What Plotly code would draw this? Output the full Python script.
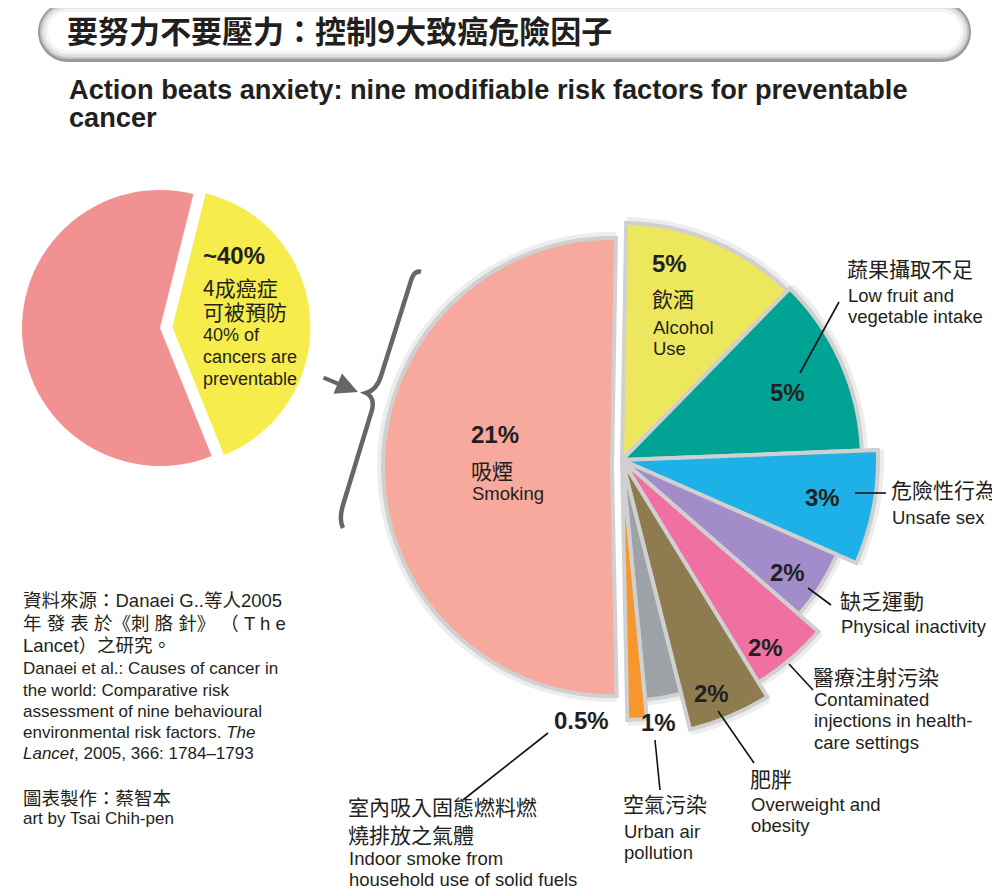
import numpy as np
import plotly.graph_objects as go

# ---------------- data ----------------
overview_labels = ["可被預防", "其他"]
overview_pct = [40, 60]

factor_zh = ["飲酒", "蔬果攝取不足", "危險性行為", "缺乏運動", "醫療注射污染",
             "肥胖", "空氣污染", "室內吸入固態燃料燃<br>燒排放之氣體", "吸煙"]
factor_en = ["Alcohol<br>Use", "Low fruit and<br>vegetable intake", "Unsafe sex",
             "Physical inactivity", "Contaminated<br>injections in health-<br>care settings",
             "Overweight and<br>obesity", "Urban air<br>pollution",
             "Indoor smoke from<br>household use of solid fuels", "Smoking"]
factor_pct = [5, 5, 3, 2, 2, 2, 1, 0.5, 21]

# ---------------- styles ----------------
overview_colors = ["#F6EC4C", "#F29191"]
factor_colors = ["#EDE75E", "#00A394", "#1DB1E8", "#A28DCA", "#EF70A1",
                 "#8E7C50", "#9DA2A7", "#F7962D", "#F6A99C"]
factor_radius = [237, 240, 256, 235, 261, 278, 241, 260, 229]   # drawn radius (px)

LAT = "Liberation Sans, Arial, Noto Sans CJK TC"
CJK = "Noto Sans CJK TC, Noto Sans CJK SC"
INK = "#231f20"
W, H = 1000, 888
OFF = 8  # page body margin of the browser


def px(x):
    return (x - OFF) / W


def py(y):
    return 1 - (y - OFF) / H


annotations = []
shapes = []


def text(x, y, s, size, family=LAT, anchor="left"):
    annotations.append(dict(x=px(x), y=py(y), xref="paper", yref="paper", text=s,
                            showarrow=False, xanchor=anchor, yanchor="middle",
                            align="left", font=dict(size=size, family=family, color=INK)))


def line(x0, y0, x1, y1, color="#111", width=1.6):
    shapes.append(dict(type="line", xref="paper", yref="paper", x0=px(x0), y0=py(y0),
                       x1=px(x1), y1=py(y1), line=dict(color=color, width=width)))


def pill(x0, y0, x1, y1, fill):
    r = (y1 - y0) / 2
    k = 0.5523 * r
    pts = [("M", [(x0 + r, y0)]), ("L", [(x1 - r, y0)]),
           ("C", [(x1 - r + k, y0), (x1, y0 + r - k), (x1, y0 + r)]),
           ("C", [(x1, y0 + r + k), (x1 - r + k, y1), (x1 - r, y1)]),
           ("L", [(x0 + r, y1)]),
           ("C", [(x0 + r - k, y1), (x0, y1 - r + k), (x0, y1 - r)]),
           ("C", [(x0, y1 - r - k), (x0 + r - k, y0), (x0 + r, y0)])]
    path = " ".join(c + " " + " ".join(f"{px(a):.5f},{py(b):.5f}" for a, b in p) for c, p in pts) + " Z"
    shapes.append(dict(type="path", xref="paper", yref="paper", path=path,
                       fillcolor=fill, line=dict(width=0), layer="below"))


fig = go.Figure()

# ---- left overview pie ----
PC, PR = (160, 328), 138
fig.add_trace(go.Pie(
    labels=overview_labels, values=overview_pct, sort=False, direction="clockwise",
    rotation=14, pull=[0.09, 0], marker=dict(colors=overview_colors, line=dict(width=0)),
    textinfo="none", hoverinfo="label+percent", showlegend=False,
    domain=dict(x=[px(PC[0] - PR * 1.09), px(PC[0] + PR * 1.09)],
                y=[py(PC[1] + PR * 1.09), py(PC[1] - PR * 1.09)])))

# ---- big factor pie as polar bars (smoking drawn on its own, slightly pulled left) ----
total = sum(factor_pct)
deg = 360 / total
starts = np.cumsum([0] + factor_pct[:-1])
theta = (starts + np.array(factor_pct) / 2) * deg
widths = np.array(factor_pct) * deg
radius = np.array(factor_radius)
hover = np.array([f"{z} {e} {p:g}%".replace("<br>", " ") for z, e, p in zip(factor_zh, factor_en, factor_pct)])

groups = [("polar", slice(0, len(factor_pct) - 1)), ("polar2", slice(len(factor_pct) - 1, None))]
for sub, sl in groups:
    fig.add_trace(go.Barpolar(
        r=radius[sl] + 6, theta=theta[sl], width=widths[sl], subplot=sub,
        marker=dict(color="rgba(0,0,0,0.07)", line=dict(width=0)),
        hoverinfo="skip", showlegend=False))
    fig.add_trace(go.Barpolar(
        r=radius[sl], theta=theta[sl], width=widths[sl], subplot=sub,
        marker=dict(color=list(np.array(factor_colors)[sl]), line=dict(color="#d0d0d0", width=4)),
        customdata=hover[sl], hovertemplate="%{customdata}<extra></extra>", showlegend=False))

# ---- header ----
pill(38, 2, 971, 62, "#9a9a9a")
pill(40, 4, 969, 59, "#c4c4c4")
pill(42, 6, 967, 57, "#e2e2e2")
pill(45, 9, 964, 54, "#f4f4f4")
pill(48, 12, 961, 51, "#ffffff")
text(65, 29.5, "<b>要努力不要壓力：控制9大致癌危險因子</b>", 31, family=CJK)
text(67, 89, "<b>Action beats anxiety: nine modifiable risk factors for preventable</b>", 27.2)
text(67, 118, "<b>cancer</b>", 27.2)

# ---- overview text ----
text(201, 255, f"<b>~{overview_pct[0]}%</b>", 24)
text(201, 287, f"{overview_pct[0] // 10}成癌症", 21, family=CJK)
text(201, 311, overview_labels[0], 21, family=CJK)
text(201, 335, f"{overview_pct[0]}% of", 18)
text(201, 357, "cancers are", 18)
text(201, 379, "preventable", 18)

# brace and arrow
shapes.append(dict(type="path", xref="paper", yref="paper",
                   path=" ".join([
                       f"M {px(421)},{py(272)}",
                       f"C {px(415)},{py(270)} {px(412)},{py(276)} {px(410)},{py(284)}",
                       f"L {px(381)},{py(376)}",
                       f"C {px(378)},{py(386)} {px(373)},{py(391)} {px(366)},{py(393)}",
                       f"C {px(372)},{py(396)} {px(374)},{py(402)} {px(372)},{py(410)}",
                       f"L {px(343)},{py(505)}",
                       f"C {px(340)},{py(515)} {px(340)},{py(522)} {px(343)},{py(528)}"]),
                   line=dict(color="#666666", width=4.5)))
annotations.append(dict(x=px(358), y=py(392), ax=-36, ay=-15, xref="paper", yref="paper",
                        axref="pixel", ayref="pixel", text="", showarrow=True, arrowhead=2,
                        arrowsize=1.1, arrowwidth=4, arrowcolor="#666666"))

# ---- factor labels ----
pct_pos = [(650, 263), (768, 392), (803, 497), (768, 572), (746, 647),
           (692, 693), (639, 722), (552, 720), (469, 435)]
name_pos = [(650, 298, 327), (845, 268, 295), (889, 489, 517), (838, 600, 626),
            (811, 676, 699), (748, 778, 804), (621, 803, 831), (346, 806, 858),
            (469, 470, 493)]
for pct, zh, en, (xp, yp), (xn, yz, ye) in zip(factor_pct, factor_zh, factor_en, pct_pos, name_pos):
    text(xp, yp, f"<b>{pct:g}%</b>", 24)
    for i, s in enumerate(zh.split("<br>")):
        text(xn, yz + 28 * i, s, 21, family=CJK)
    for i, s in enumerate(en.split("<br>")):
        text(xn + 1, ye + 21.5 * i, s, 18.5)

# leader lines
line(800, 373, 839, 302)
line(855, 493, 886, 493)
line(808, 588, 831, 605)
line(789, 664, 813, 690)
line(718, 711, 754, 763)
line(655, 740, 660, 790)
line(548, 733, 463, 800)

# ---- source ----
text(21, 600, "資料來源：Danaei G..等人2005", 18.5)
text(21, 623, "年 發 表 於《刺 胳 針》 （ T h e", 18.5)
text(21, 645, "Lancet）之研究。", 18.5)
text(21, 668, "Danaei et al.: Causes of cancer in", 17)
text(21, 690, "the world: Comparative risk", 17)
text(21, 711, "assessment of nine behavioural", 17)
text(21, 732, "environmental risk factors. <i>The</i>", 17)
text(21, 753, "<i>Lancet</i>, 2005, 366: 1784–1793", 17)
text(21, 798, "圖表製作：蔡智本", 18.5)
text(21, 818, "art by Tsai Chih-pen", 17)

R = 300
C1, C2 = (622, 460), (612, 467)


def dom(c):
    return dict(x=[px(c[0] - R), px(c[0] + R)], y=[py(c[1] + R), py(c[1] - R)])


polar_common = dict(bgcolor="rgba(0,0,0,0)", hole=0, barmode="overlay",
                    radialaxis=dict(range=[0, R], visible=False),
                    angularaxis=dict(visible=False, rotation=89, direction="clockwise"))

fig.update_layout(
    width=W, height=H, margin=dict(l=0, r=0, t=0, b=0),
    paper_bgcolor="white", plot_bgcolor="white",
    polar=dict(domain=dom(C1), **polar_common),
    polar2=dict(domain=dom(C2), **polar_common),
    annotations=annotations, shapes=shapes, showlegend=False)

fig.write_html("out.html")
